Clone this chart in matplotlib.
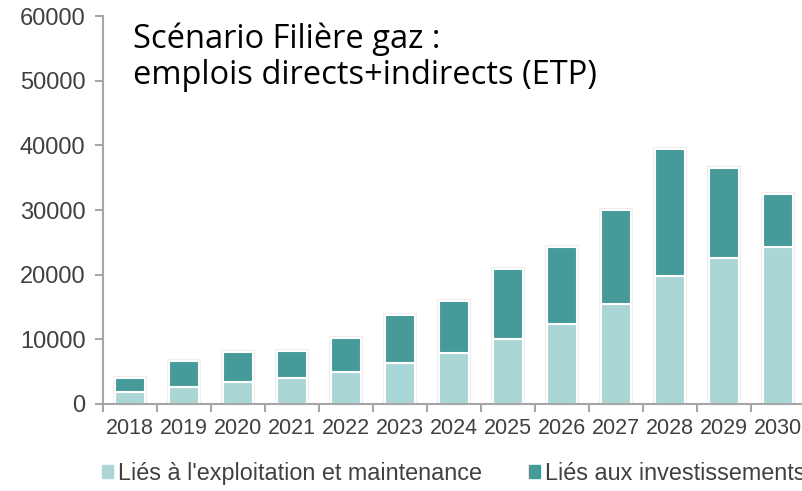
import numpy as np
import matplotlib
matplotlib.use('Agg')
import matplotlib.pyplot as plt
from matplotlib.patches import Patch

# Données (ETP)
annees = ['2018', '2019', '2020', '2021', '2022', '2023', '2024',
          '2025', '2026', '2027', '2028', '2029', '2030']
exploitation = [1900, 2600, 3400, 4000, 4900, 6300, 7900,
                10000, 12300, 15400, 19800, 22600, 24300]
total = [4000, 6650, 8000, 8200, 10200, 13800, 16000,
         20900, 24300, 30000, 39400, 36500, 32400]
investissements = [t - e for t, e in zip(total, exploitation)]

c_clair = '#abd6d6'
c_fonce = '#469a9a'
gris = '#a6a6a6'
texte = '#404040'

fig = plt.figure(figsize=(8.02, 4.91), dpi=100)
ax = fig.add_axes([0.1284, 0.1772, 0.8755, 0.7902])

x = np.arange(len(annees))
w = 0.56
# ombre légère autour des barres
ax.bar(x, total, w, color='none', edgecolor='#ededed', linewidth=3, zorder=2)
ax.bar(x, exploitation, w, color=c_clair, edgecolor='white', linewidth=1.5, zorder=3)
ax.bar(x, investissements, w, bottom=exploitation, color=c_fonce,
       edgecolor='white', linewidth=1.5, zorder=3)

ax.set_xlim(-0.5, 12.5)
ax.set_ylim(0, 60000)
ax.set_yticks(range(0, 60001, 10000))
ax.set_xticks(x)
ax.set_xticklabels(annees)
ax.set_xticks(np.arange(-0.5, 12.6, 1), minor=True)
ax.tick_params(axis='x', which='major', length=0, pad=10, labelsize=15.5, labelcolor=texte)
ax.tick_params(axis='x', which='minor', length=6, width=1.5, color=gris, direction='out')
ax.tick_params(axis='y', length=6, width=1.5, color=gris, pad=6.5, labelsize=17, labelcolor=texte)
for lab in ax.get_xticklabels() + ax.get_yticklabels():
    lab.set_family('Liberation Sans')

for s in ['top', 'right']:
    ax.spines[s].set_visible(False)
for s in ['left', 'bottom']:
    ax.spines[s].set_color(gris)
    ax.spines[s].set_linewidth(1.5)
    ax.spines[s].set_zorder(4)

fig.text(0.166, 0.955, "Scénario Filière gaz :\nemplois directs+indirects (ETP)",
         fontsize=23.5, family='Open Sans', color='black', va='top', linespacing=1.15)

handles = [Patch(color=c_clair, label="Liés à l'exploitation et maintenance"),
           Patch(color=c_fonce, label="Liés aux investissements")]
fig.legend(handles=handles, loc='center left', bbox_to_anchor=(0.101, 0.036), ncol=2,
           frameon=False, handlelength=0.45, handleheight=0.45,
           handletextpad=0.25, columnspacing=2.0, labelcolor=texte,
           prop={'family': 'Liberation Sans', 'size': 16.8})

fig.savefig('out.png', dpi=100)
